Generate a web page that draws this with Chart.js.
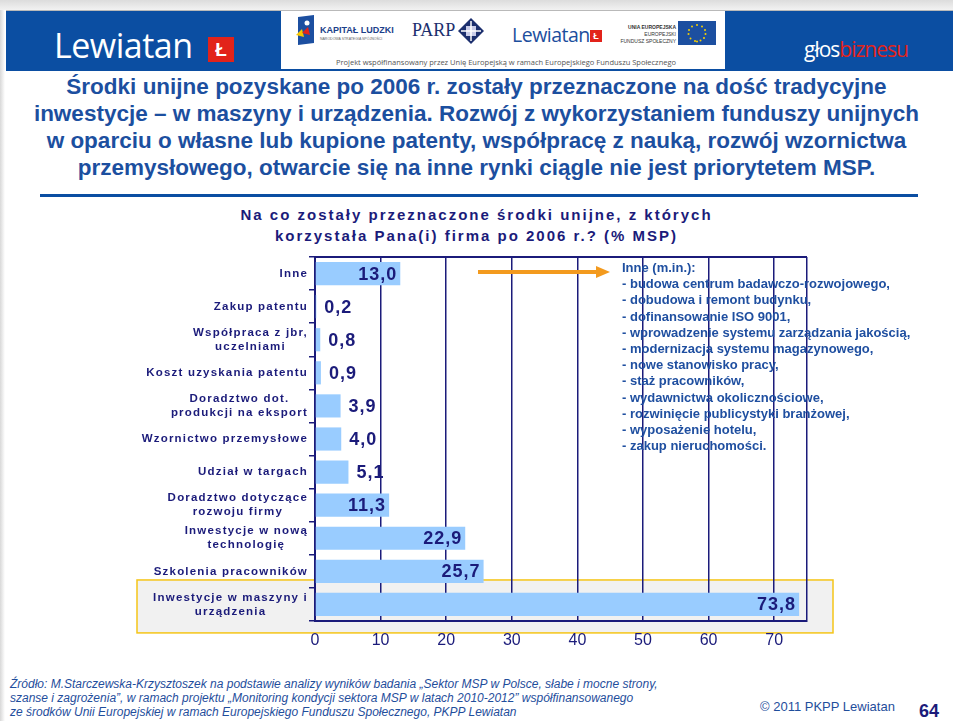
<!DOCTYPE html>
<html lang="pl">
<head>
<meta charset="utf-8">
<title>Środki unijne – przeznaczenie</title>
<script src="https://cdn.jsdelivr.net/npm/chart.js@4.4.1/dist/chart.umd.min.js"></script>
<style>
  html, body { margin: 0; padding: 0; background: #fff; }
  body { width: 953px; height: 721px; position: relative; overflow: hidden; font-family: "Liberation Sans", Arial, sans-serif; }
  .abs { position: absolute; }
  #topband { left: 0; top: 0; width: 953px; height: 10px; background: linear-gradient(#dcdcdc, #f2f2f2); }
  #edge { left: 0; top: 10px; width: 5px; height: 711px; background: linear-gradient(to right, #d8d8d8, #fff); }
  #hdr { left: 6px; top: 10px; width: 947px; height: 58px; border-top: 1px solid #b9b9b9; border-bottom: 2px solid #0b4ea2; background: #fff; }
  #hdrLeft { left: 0; top: 0; width: 275px; height: 58px; background: #0b4ea2; }
  #hdrRight { left: 719px; top: 0; width: 228px; height: 58px; background: #0b4ea2; }
  .lew { color: #fff; font-family: "Open Sans", sans-serif; font-size: 34px; letter-spacing: -0.5px; }
  .redsq { background: #e2231a; color: #fff; font-weight: bold; text-align: center; }
  #glos { left: 79px; top: 24px; font-family: "Open Sans", sans-serif; font-size: 21px; letter-spacing: -1px; color: #fff; }
  #glos span { color: #e2231a; }
  .small { color: #333; font-size: 6px; }
  #projekt { left: 280px; top: 46px; width: 440px; text-align: center; font-family: "Open Sans", sans-serif; font-size: 7.5px; color: #555; }
  #heading { left: 0; top: 73px; width: 953px; text-align: center; font-weight: bold; font-size: 22.5px; line-height: 27px; color: #1c4f9f; }
  #rule { left: 40px; top: 194px; width: 878px; height: 3px; background: #0b4ea2; }
  #ctitle { left: 0; top: 204px; width: 953px; text-align: center; font-weight: bold; font-size: 15px; line-height: 21px; letter-spacing: 2px; color: #1b1b7a; }
  #chartBox { left: 0; top: 250px; width: 953px; height: 420px; }
  #other { left: 622px; top: 260px; font-weight: bold; font-size: 13px; line-height: 16.2px; color: #1f4fa0; white-space: nowrap; }
  #arrow { left: 470px; top: 262px; }
  #source { left: 10px; top: 677px; font-style: italic; font-size: 12px; line-height: 14px; color: #1f4e9c; white-space: nowrap; }
  #copy { left: 760px; top: 699px; font-size: 13px; color: #1f4e9c; }
  #page { left: 919px; top: 701px; font-weight: bold; font-size: 18px; color: #1b1b7a; }
</style>
</head>
<body>
<div id="topband" class="abs"></div>
<div id="edge" class="abs"></div>

<div id="hdr" class="abs">
  <div id="hdrLeft" class="abs">
    <div class="abs lew" style="left:48px; top:11px;">Lewiatan</div>
    <div class="abs redsq" style="left:202px; top:26px; width:26px; height:25px; font-size:19px; line-height:25px;">Ł</div>
  </div>

  <!-- Kapitał Ludzki -->
  <svg class="abs" style="left:288px; top:4px;" width="22" height="32">
    <polygon points="4,2 20,0 20,28 4,30" fill="#1c4fa0"/>
    <polygon points="2,20 8,14 10,22" fill="#f7c600"/>
    <polygon points="8,18 14,12 16,20" fill="#e2231a"/>
    <circle cx="13" cy="8" r="2.5" fill="#fff"/>
  </svg>
  <div class="abs" style="left:314px; top:14px; font-weight:bold; font-size:9px; color:#1c3f8a;">KAPITAŁ LUDZKI</div>
  <div class="abs small" style="left:314px; top:26px; font-size:3.5px; color:#666;">NARODOWA STRATEGIA SPÓJNOŚCI</div>

  <!-- PARP -->
  <div class="abs" style="left:406px; top:9px; font-family:'Liberation Serif', serif; font-size:18px; color:#1c2f6e;">PARP</div>
  <svg class="abs" style="left:452px; top:7px;" width="30" height="26">
    <polygon points="13,0 26,13 13,26 0,13" fill="#1c2f6e"/>
    <rect x="8" y="8" width="10" height="10" fill="#c9cce8"/>
    <line x1="13" y1="3" x2="13" y2="23" stroke="#fff" stroke-width="1.5"/>
    <line x1="3" y1="13" x2="23" y2="13" stroke="#fff" stroke-width="1.5"/>
  </svg>

  <!-- Lewiatan -->
  <div class="abs lew" style="left:506px; top:10px; font-size:19.5px; color:#1c4e9d;">Lewiatan</div>
  <div class="abs redsq" style="left:584px; top:19px; width:12px; height:12px; font-size:9px; line-height:12px;">Ł</div>

  <!-- Unia Europejska -->
  <div class="abs" style="left:614px; top:13px; width:56px; text-align:right; font-size:5px; line-height:7px; color:#333;">
    <b>UNIA EUROPEJSKA</b><br>EUROPEJSKI<br>FUNDUSZ SPOŁECZNY
  </div>
  <svg class="abs" style="left:672px; top:10px;" width="38" height="24">
    <rect width="38" height="24" fill="#1c4fa0"/>
    <g fill="#f7d000">
      <circle cx="19" cy="4" r="1"/><circle cx="24" cy="5.5" r="1"/><circle cx="27" cy="9" r="1"/>
      <circle cx="27.5" cy="13" r="1"/><circle cx="26" cy="17" r="1"/><circle cx="22.5" cy="19.5" r="1"/>
      <circle cx="17" cy="20" r="1"/><circle cx="12.5" cy="17.5" r="1"/><circle cx="10.5" cy="13" r="1"/>
      <circle cx="11" cy="9" r="1"/><circle cx="14" cy="5.5" r="1"/><circle cx="19" cy="20.5" r="1"/>
    </g>
  </svg>
  <div id="projekt" class="abs">Projekt współfinansowany przez Unię Europejską w ramach Europejskiego Funduszu Społecznego</div>

  <div id="hdrRight" class="abs">
    <div id="glos" class="abs">głos<span>biznesu</span></div>
  </div>
</div>

<div id="heading" class="abs">
  Środki unijne pozyskane po 2006 r. zostały przeznaczone na dość tradycyjne<br>
  inwestycje – w maszyny i urządzenia. Rozwój z wykorzystaniem funduszy unijnych<br>
  w oparciu o własne lub kupione patenty, współpracę z nauką, rozwój wzornictwa<br>
  przemysłowego, otwarcie się na inne rynki ciągle nie jest priorytetem MSP.
</div>
<div id="rule" class="abs"></div>
<div id="ctitle" class="abs">
  Na co zostały przeznaczone środki unijne, z których<br>
  korzystała Pana(i) firma po 2006 r.? (% MSP)
</div>

<div id="chartBox" class="abs"><canvas id="chart" width="953" height="420"></canvas></div>

<svg id="arrow" class="abs" width="150" height="20">
  <line x1="8" y1="10" x2="128" y2="10" stroke="#f39a1e" stroke-width="4"/>
  <polygon points="126,4 140,10 126,16" fill="#f39a1e"/>
</svg>
<div id="other" class="abs"></div>

<div id="source" class="abs">
  Źródło: M.Starczewska-Krzysztoszek na podstawie analizy wyników badania „Sektor MSP w Polsce, słabe i mocne strony,<br>
  szanse i zagrożenia”, w ramach projektu „Monitoring kondycji sektora MSP w latach 2010-2012” współfinansowanego<br>
  ze środków Unii Europejskiej w ramach Europejskiego Funduszu Społecznego, PKPP Lewiatan
</div>
<div id="copy" class="abs">© 2011 PKPP Lewiatan</div>
<div id="page" class="abs">64</div>

<script>
const categories = [
    'Inne',
    'Zakup patentu',
    ['Współpraca z jbr,', 'uczelniami'],
    'Koszt uzyskania patentu',
    ['Doradztwo dot.', 'produkcji na eksport'],
    'Wzornictwo przemysłowe',
    'Udział w targach',
    ['Doradztwo dotyczące', 'rozwoju firmy'],
    ['Inwestycje w nową', 'technologię'],
    'Szkolenia pracowników',
    ['Inwestycje w maszyny i', 'urządzenia']
];

const shares = [13.0, 0.2, 0.8, 0.9, 3.9, 4.0, 5.1, 11.3, 22.9, 25.7, 73.8];

const axisMax = 75;
const axisStep = 10;
const lastTick = 70;

const otherTitle = 'Inne (m.in.):';
const otherItems = [
    'budowa centrum badawczo-rozwojowego,',
    'dobudowa i remont budynku,',
    'dofinansowanie ISO 9001,',
    'wprowadzenie systemu zarządzania jakością,',
    'modernizacja systemu magazynowego,',
    'nowe stanowisko pracy,',
    'staż pracowników,',
    'wydawnictwa okolicznościowe,',
    'rozwinięcie publicystyki branżowej,',
    'wyposażenie hotelu,',
    'zakup nieruchomości.'
];

document.getElementById('other').innerHTML =
    [otherTitle, ...otherItems.map(s => '- ' + s)].join('<br>');

const navy = '#1b1b7a';
const font = '"Liberation Sans", Arial, sans-serif';

// grey box with yellow border behind the last category
const highlightLast = {
    id: 'highlightLast',
    beforeDraw(chart) {
        const { ctx, chartArea, scales: { y } } = chart;
        const step = y.height / categories.length;
        const cy = y.getPixelForValue(categories.length - 1);
        const top = cy - step * 0.74;
        const bottom = cy + step * 0.86;
        ctx.save();
        ctx.fillStyle = '#f1f1f1';
        ctx.strokeStyle = '#f5c518';
        ctx.lineWidth = 1.5;
        ctx.fillRect(137, top, chartArea.right + 26 - 137, bottom - top);
        ctx.strokeRect(137, top, chartArea.right + 26 - 137, bottom - top);
        ctx.restore();
    }
};

// top edge of the plot frame
const frameTop = {
    id: 'frameTop',
    beforeDatasetsDraw(chart) {
        const { ctx, chartArea } = chart;
        ctx.save();
        ctx.strokeStyle = navy;
        ctx.lineWidth = 2;
        ctx.beginPath();
        ctx.moveTo(chartArea.left, chartArea.top);
        ctx.lineTo(chartArea.right, chartArea.top);
        ctx.stroke();
        ctx.restore();
    }
};

// values with a decimal comma, inside long bars and after short ones
const valueLabels = {
    id: 'valueLabels',
    afterDatasetsDraw(chart) {
        const { ctx } = chart;
        const meta = chart.getDatasetMeta(0);
        ctx.save();
        ctx.font = 'bold 18px ' + font;
        ctx.letterSpacing = '1px';
        ctx.fillStyle = navy;
        ctx.textBaseline = 'middle';
        meta.data.forEach((bar, i) => {
            const v = shares[i];
            const text = v.toFixed(1).replace('.', ',');
            if (v >= 10) {
                ctx.textAlign = 'right';
                ctx.fillText(text, bar.x - 3, bar.y + 1);
            } else {
                ctx.textAlign = 'left';
                ctx.fillText(text, bar.x + 8, bar.y + 1);
            }
        });
        ctx.restore();
    }
};

// category names: block right-aligned to the axis, lines centred in the block
const categoryLabels = {
    id: 'categoryLabels',
    afterDraw(chart) {
        const { ctx, scales: { y } } = chart;
        ctx.save();
        ctx.font = 'bold 11.5px ' + font;
        ctx.letterSpacing = '1.2px';
        ctx.fillStyle = navy;
        ctx.textAlign = 'center';
        ctx.textBaseline = 'middle';
        const right = y.right - 7;
        categories.forEach((label, i) => {
            const lines = [].concat(label);
            const w = Math.max(...lines.map(l => ctx.measureText(l).width));
            const cx = right - w / 2;
            const cy = y.getPixelForValue(i);
            lines.forEach((l, j) => {
                ctx.fillText(l, cx, cy + (j - (lines.length - 1) / 2) * 14);
            });
        });
        ctx.restore();
    }
};

const chart = new Chart(document.getElementById('chart'), {
    type: 'bar',
    data: {
        labels: categories,
        datasets: [{
            data: shares,
            backgroundColor: '#99ccff',
            borderWidth: 0,
            barPercentage: 0.7,
            categoryPercentage: 1
        }]
    },
    options: {
        indexAxis: 'y',
        responsive: false,
        animation: false,
        layout: { padding: { top: 7, right: 146, left: 0, bottom: 0 } },
        plugins: {
            legend: { display: false },
            tooltip: { enabled: false }
        },
        scales: {
            x: {
                min: 0,
                max: axisMax,
                afterFit(scale) { scale.height = 49; },
                border: { color: navy, width: 2 },
                grid: { color: navy, lineWidth: 1.5, drawTicks: false },
                ticks: {
                    stepSize: axisStep,
                    padding: 10,
                    color: navy,
                    font: { family: font, size: 16 },
                    callback: v => (v <= lastTick ? v : '')
                }
            },
            y: {
                afterFit(scale) { scale.width = 315; },
                border: { color: navy, width: 2 },
                grid: { color: navy, lineWidth: 1.5, drawOnChartArea: false, tickLength: 6 },
                ticks: { display: false }
            }
        }
    },
    plugins: [highlightLast, frameTop, valueLabels, categoryLabels]
});
</script>
</body>
</html>
